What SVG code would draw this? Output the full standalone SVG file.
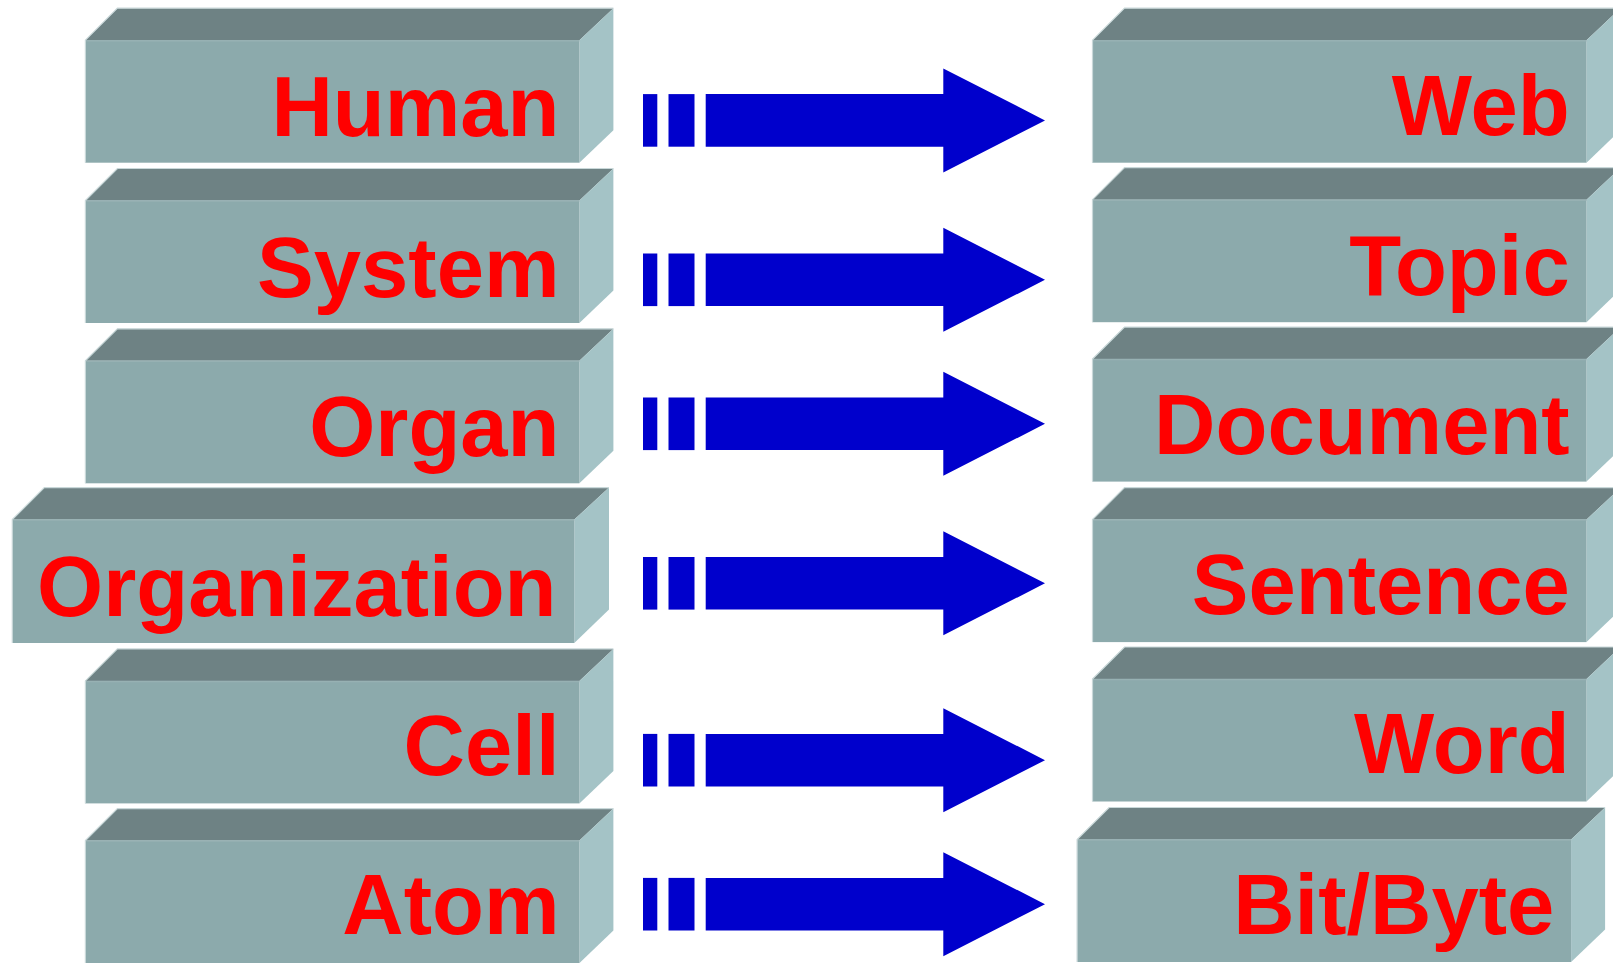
<svg xmlns="http://www.w3.org/2000/svg" width="1613" height="963" viewBox="0 0 1613 963">
<style>
.front{fill:#8CAAAC;}
.top{fill:#6E8284;}
.side{fill:#A4C3C6;}
.edge{fill:none;stroke:#C9D8D9;stroke-width:1.2;}
.sep{stroke:#97B1B3;stroke-width:1.5;}
.lbl{font-family:"Liberation Sans",Arial,Helvetica,sans-serif;font-weight:bold;font-size:85px;fill:#FF0000;text-anchor:end;}
.arr{fill:#0000CC;}
</style>
<defs>
<g id="box">
<polygon class="top" points="0,32 32,0 528,0 494,32"/>
<polygon class="side" points="494,32 528,0 528,122 494,154.5"/>
<rect class="front" x="0" y="32" width="494" height="122.5"/>
<line class="sep" x1="0" y1="32.5" x2="494" y2="32.5"/>
<polyline class="edge" points="0,154.5 0,32 32,0 528,0"/>
</g>
<g id="boxwide">
<polygon class="top" points="0,32 32,0 596.7,0 562,32"/>
<polygon class="side" points="562,32 596.7,0 596.7,122 562,155.4"/>
<rect class="front" x="0" y="32" width="562" height="123.4"/>
<line class="sep" x1="0" y1="32.5" x2="562" y2="32.5"/>
<polyline class="edge" points="0,155.4 0,32 32,0 596.7,0"/>
</g>
<g id="arrow">
<rect class="arr" x="643" y="-26.3" width="14.3" height="52.6"/>
<rect class="arr" x="668.5" y="-26.3" width="26" height="52.6"/>
<polygon class="arr" points="705.7,-26.3 943.3,-26.3 943.3,-52 1045,0 943.3,52 943.3,26.3 705.7,26.3"/>
</g>
</defs>
<rect width="1613" height="963" fill="#FFFFFF"/>

<g id="connectors">
<use href="#arrow" transform="translate(0,120.4)"/>
<use href="#arrow" transform="translate(0,279.8)"/>
<use href="#arrow" transform="translate(0,423.8)"/>
<use href="#arrow" transform="translate(0,583.3)"/>
<use href="#arrow" transform="translate(0,760.2)"/>
<use href="#arrow" transform="translate(0,904.2)"/>
</g>

<g id="node-human">
<use href="#box" transform="translate(85.4,8.2)"/>
<text class="lbl" x="559.5" y="135.8">Human</text>
</g>
<g id="node-system">
<use href="#box" transform="translate(85.4,168.5)"/>
<text class="lbl" x="559.5" y="297.3">System</text>
</g>
<g id="node-organ">
<use href="#box" transform="translate(85.4,328.8)"/>
<text class="lbl" x="559.5" y="455.7">Organ</text>
</g>
<g id="node-organization">
<use href="#boxwide" transform="translate(12.3,487.6)"/>
<text class="lbl" x="556.5" y="616.2">Organization</text>
</g>
<g id="node-cell">
<use href="#box" transform="translate(85.4,648.9)"/>
<text class="lbl" x="559.5" y="774.6">Cell</text>
</g>
<g id="node-atom">
<use href="#box" transform="translate(85.4,808.6)"/>
<text class="lbl" x="559.5" y="934.1">Atom</text>
</g>

<g id="node-web">
<use href="#box" transform="translate(1092.5,8.2)"/>
<text class="lbl" x="1569.7" y="134.8">Web</text>
</g>
<g id="node-topic">
<use href="#box" transform="translate(1092.5,167.7)"/>
<text class="lbl" x="1569.7" y="295.2">Topic</text>
</g>
<g id="node-document">
<use href="#box" transform="translate(1092.5,327.1)"/>
<text class="lbl" x="1569.7" y="453.7">Document</text>
</g>
<g id="node-sentence">
<use href="#box" transform="translate(1092.5,487.6)"/>
<text class="lbl" x="1569.7" y="614.1">Sentence</text>
</g>
<g id="node-word">
<use href="#box" transform="translate(1092.5,647)"/>
<text class="lbl" x="1569.7" y="772.6">Word</text>
</g>
<g id="node-bitbyte">
<use href="#box" transform="translate(1077.1,807.5)"/>
<text class="lbl" x="1554.3" y="934.1">Bit/Byte</text>
</g>
</svg>
